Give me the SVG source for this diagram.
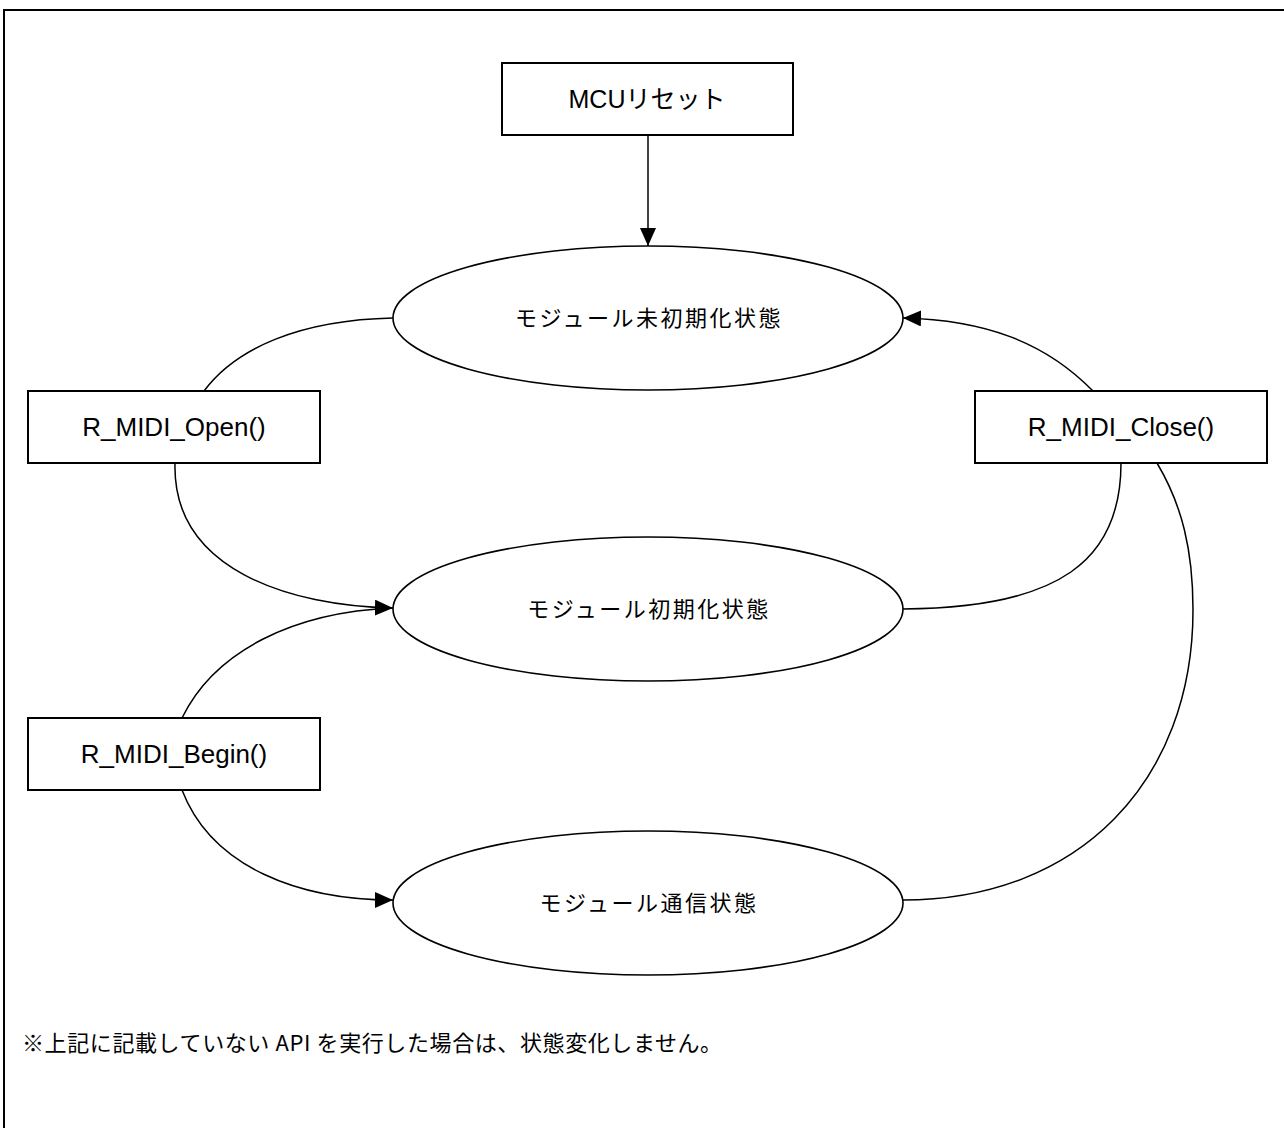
<svg xmlns="http://www.w3.org/2000/svg" width="1284" height="1128" viewBox="0 0 1284 1128">
<style>
.box{fill:#fff;stroke:#000;stroke-width:2}
.st{fill:#fff;stroke:#000;stroke-width:1.6}
.c{fill:none;stroke:#000;stroke-width:1.5}
.lat{font-family:"Liberation Sans","Noto Sans CJK JP",sans-serif;fill:#000;text-anchor:middle}
.jp{font-family:"Noto Sans CJK JP",sans-serif;fill:#000;text-anchor:middle;font-size:22px;letter-spacing:2.5px}
</style>
<defs>
<marker id="ah" markerUnits="userSpaceOnUse" markerWidth="20" markerHeight="16" refX="18" refY="8" orient="auto">
<path d="M0,0 L18,8 L0,16 Z" fill="#000"/>
</marker>
</defs>
<rect width="1284" height="1128" fill="#fff"/>
<path d="M4,1128 V10 H1284" fill="none" stroke="#000" stroke-width="2"/>

<g id="connectors">
<path class="c" d="M648,135 V246" marker-end="url(#ah)"/>
<path class="c" d="M393,318 C300,320 236,348 204,391"/>
<path class="c" d="M175,463 C172,570 290,606 393,608" marker-end="url(#ah)"/>
<path class="c" d="M182,718 C215,650 295,612 393,608"/>
<path class="c" d="M182,790 C212,868 300,900 393,900" marker-end="url(#ah)"/>
<path class="c" d="M903,609 C1060,608 1121,560 1121,463"/>
<path class="c" d="M903,900 C1080,900 1193,780 1193,610 C1193,550 1182,505 1157,463"/>
<path class="c" d="M1093,391 C1045,342 985,320 903,318" marker-end="url(#ah)" stroke-width="2.6"/>
</g>

<g id="mcu-reset">
<rect class="box" x="502" y="63" width="291" height="72"/>
<text class="lat" x="647" y="108" font-size="25">MCUリセット</text>
</g>
<g id="state-uninit">
<ellipse class="st" cx="648" cy="318" rx="255" ry="72"/>
<text class="jp" x="649" y="326">モジュール未初期化状態</text>
</g>
<g id="state-init">
<ellipse class="st" cx="648" cy="609" rx="255" ry="72"/>
<text class="jp" x="649" y="617">モジュール初期化状態</text>
</g>
<g id="state-comm">
<ellipse class="st" cx="648" cy="903" rx="255" ry="72"/>
<text class="jp" x="649" y="911">モジュール通信状態</text>
</g>
<g id="open">
<rect class="box" x="28" y="391" width="292" height="72"/>
<text class="lat" x="174" y="436" font-size="26">R_MIDI_Open()</text>
</g>
<g id="close">
<rect class="box" x="975" y="391" width="292" height="72"/>
<text class="lat" x="1121" y="436" font-size="26">R_MIDI_Close()</text>
</g>
<g id="begin">
<rect class="box" x="28" y="718" width="292" height="72"/>
<text class="lat" x="174" y="763" font-size="26">R_MIDI_Begin()</text>
</g>
<text x="22" y="1051" font-family="'Noto Sans CJK JP',sans-serif" font-size="22" letter-spacing="0.6">※上記に記載していない API を実行した場合は、状態変化しません。</text>
</svg>
